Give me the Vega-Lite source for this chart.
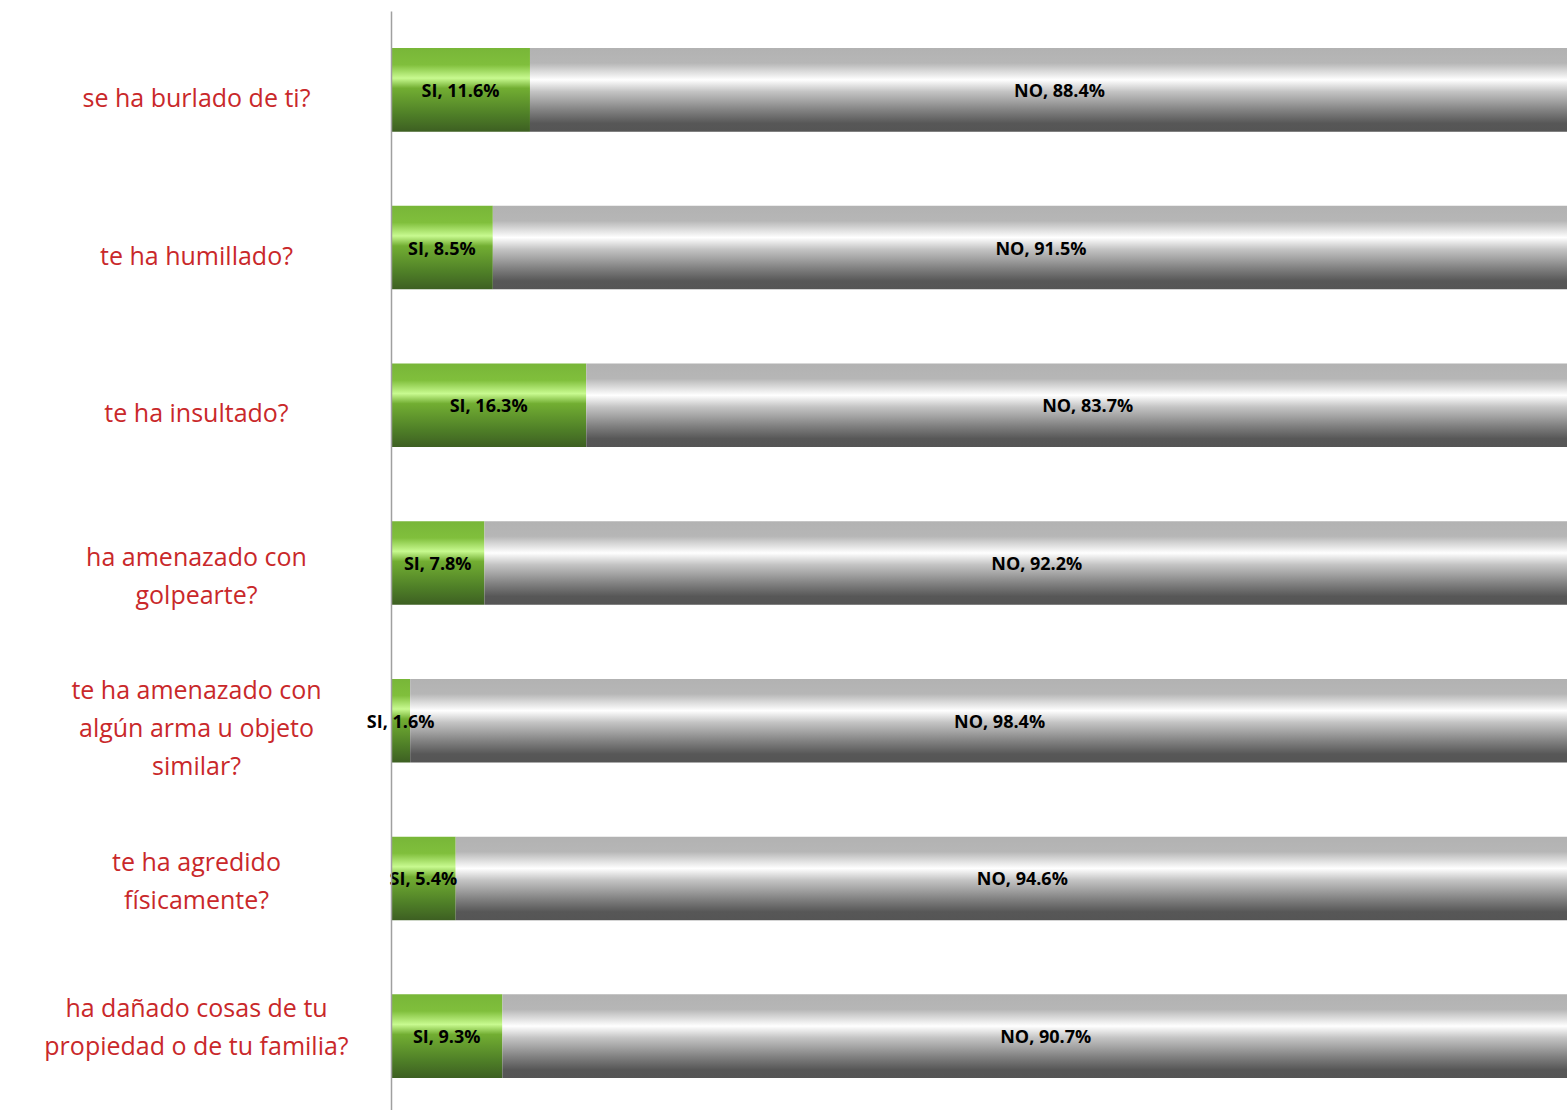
{
  "$schema": "https://vega.github.io/schema/vega-lite/v6.json",
  "autosize": "none",
  "width": 1176,
  "height": 1104,
  "padding": {"left": 391, "top": 11, "right": 0, "bottom": 0},
  "background": "white",
  "config": {"view": {"stroke": null}},
  "data": {"values": [
    {"q": "se ha burlado de ti?", "resp": "SI", "pct": 11.6, "lab": "SI, 11.6%"},
    {"q": "se ha burlado de ti?", "resp": "NO", "pct": 88.4, "lab": "NO, 88.4%"},
    {"q": "te ha humillado?", "resp": "SI", "pct": 8.5, "lab": "SI, 8.5%"},
    {"q": "te ha humillado?", "resp": "NO", "pct": 91.5, "lab": "NO, 91.5%"},
    {"q": "te ha insultado?", "resp": "SI", "pct": 16.3, "lab": "SI, 16.3%"},
    {"q": "te ha insultado?", "resp": "NO", "pct": 83.7, "lab": "NO, 83.7%"},
    {"q": "ha amenazado con|golpearte?", "resp": "SI", "pct": 7.8, "lab": "SI, 7.8%"},
    {"q": "ha amenazado con|golpearte?", "resp": "NO", "pct": 92.2, "lab": "NO, 92.2%"},
    {"q": "te ha amenazado con|algún arma u objeto|similar?", "resp": "SI", "pct": 1.6, "lab": "SI, 1.6%"},
    {"q": "te ha amenazado con|algún arma u objeto|similar?", "resp": "NO", "pct": 98.4, "lab": "NO, 98.4%"},
    {"q": "te ha agredido|físicamente?", "resp": "SI", "pct": 5.4, "lab": "SI, 5.4%"},
    {"q": "te ha agredido|físicamente?", "resp": "NO", "pct": 94.6, "lab": "NO, 94.6%"},
    {"q": "ha dañado cosas de tu|propiedad o de tu familia?", "resp": "SI", "pct": 9.3, "lab": "SI, 9.3%"},
    {"q": "ha dañado cosas de tu|propiedad o de tu familia?", "resp": "NO", "pct": 90.7, "lab": "NO, 90.7%"}
  ]},
  "transform": [
    {"stack": "pct", "groupby": ["q"], "sort": [{"field": "resp", "order": "descending"}], "as": ["s0", "s1"]}
  ],
  "encoding": {
    "y": {
      "field": "q", "type": "nominal", "sort": null,
      "scale": {"paddingInner": 0.47, "paddingOuter": 0.235},
      "axis": {
        "title": null,
        "ticks": false,
        "labelExpr": "split(datum.label, '|')",
        "labelAlign": "center",
        "labelBaseline": "middle",
        "labelPadding": 195,
        "labelOffset": {
          "condition": [
            {"test": "indexof(datum.label, 'similar') >= 0", "value": -30},
            {"test": "indexof(datum.label, 'familia') >= 0", "value": -27},
            {"test": "indexof(datum.label, 'agredido') >= 0", "value": -15},
            {"test": "indexof(datum.label, 'golpearte') >= 0", "value": -5}
          ],
          "value": 9
        },
        "labelFont": "Open Sans",
        "labelFontSize": 25,
        "labelColor": "#c9282a",
        "labelLineHeight": 38,
        "labelLimit": 0,
        "domainColor": "#a0a0a0",
        "domainWidth": 1.5,
        "zindex": 1
      }
    }
  },
  "layer": [
    {
      "mark": {"type": "bar", "clip": true},
      "encoding": {
        "x": {"field": "s0", "type": "quantitative", "scale": {"domain": [0, 98.16], "nice": false}, "axis": null},
        "x2": {"field": "s1"},
        "fill": {
          "condition": {
            "test": "datum.resp === 'SI'",
            "value": {"gradient": "linear", "x1": 0, "y1": 0, "x2": 0, "y2": 1,
              "stops": [
                {"offset": 0, "color": "#78b638"},
                {"offset": 0.2, "color": "#80bf3c"},
                {"offset": 0.36, "color": "#c8fa90"},
                {"offset": 0.48, "color": "#72ae32"},
                {"offset": 0.8, "color": "#4e7e27"},
                {"offset": 1, "color": "#3d5f22"}
              ]}
          },
          "value": {"gradient": "linear", "x1": 0, "y1": 0, "x2": 0, "y2": 1,
            "stops": [
              {"offset": 0, "color": "#b2b2b2"},
              {"offset": 0.18, "color": "#b6b6b6"},
              {"offset": 0.38, "color": "#ffffff"},
              {"offset": 0.52, "color": "#c4c4c4"},
              {"offset": 0.75, "color": "#808080"},
              {"offset": 0.9, "color": "#575757"},
              {"offset": 1, "color": "#555555"}
            ]}
        }
      }
    },
    {
      "mark": {"type": "text", "font": "Open Sans", "fontWeight": "bold", "fontSize": 18, "color": "#000000", "baseline": "middle", "align": "center", "dy": 2},
      "encoding": {
        "x": {"value": {"expr": "scale('x', (datum.s0 + datum.s1) / 2)"}},
        "text": {"field": "lab"}
      }
    }
  ]
}
